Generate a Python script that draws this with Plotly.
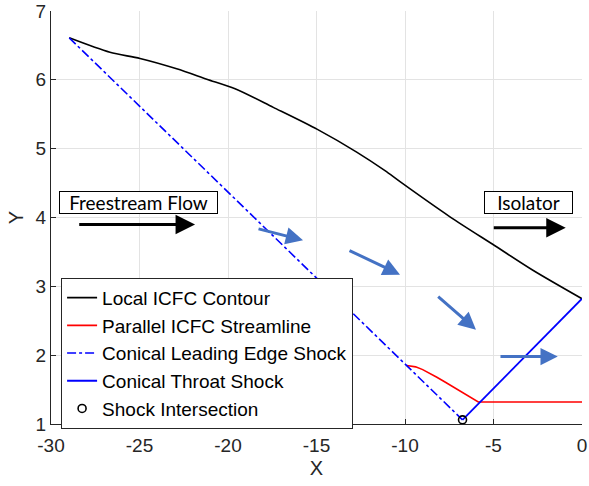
import plotly.graph_objects as go

# Local ICFC contour (wall profile)
contour_x = [-28.97, -26.67, -24.97, -22.90, -21.20, -19.60, -17.44, -14.95,
             -12.73, -11.13, -10.28, -7.46, -4.92, -2.75, 0.0]
contour_y = [6.61, 6.40, 6.31, 6.16, 6.01, 5.87, 5.60, 5.28,
             4.95, 4.68, 4.52, 4.01, 3.59, 3.23, 2.82]

# Parallel ICFC streamline
stream_x = [-9.90, -9.40, -9.00, -8.68, -8.20, -7.74, -7.27, -6.80, -6.33, -5.86,
            -3.0, 0.0]
stream_y = [1.85, 1.83, 1.79, 1.75, 1.68, 1.61, 1.535, 1.46, 1.39, 1.32,
            1.32, 1.32]

# Conical shocks
lead_x = [-28.97, -6.75]
lead_y = [6.61, 1.06]
throat_x = [-6.75, 0.0]
throat_y = [1.06, 2.82]

# Shock intersection point
inter_x = [-6.75]
inter_y = [1.06]

# Axis ticks
x_ticks = [-30, -25, -20, -15, -10, -5, 0]
y_ticks = [1, 2, 3, 4, 5, 6, 7]

# Flow direction arrows: (tail_x, tail_y, head_x, head_y)
flow_arrows = [
    (-18.36, 3.84, -15.76, 3.67),
    (-13.22, 3.53, -10.28, 3.17),
    (-8.21, 2.87, -5.99, 2.37),
    (-4.69, 1.98, -1.37, 1.98),
]
label_arrows = [
    (-28.49, 3.90, -21.86, 3.90),
    (-5.07, 3.85, -0.92, 3.85),
]
# Text boxes: (x, y, text, width)
labels = [
    (-25.05, 4.22, "Freestream Flow", 157),
    (-3.01, 4.22, "Isolator", 87),
]

fig = go.Figure()
fig.add_trace(go.Scatter(x=contour_x, y=contour_y, mode="lines",
                         line=dict(color="black", width=1.6, shape="spline",
                                   smoothing=0.8),
                         name="Local ICFC Contour"))
fig.add_trace(go.Scatter(x=stream_x, y=stream_y, mode="lines",
                         line=dict(color="#ff0000", width=1.6),
                         name="Parallel ICFC Streamline"))
fig.add_trace(go.Scatter(x=lead_x, y=lead_y, mode="lines",
                         line=dict(color="#0000ff", width=1.6, dash="dashdot"),
                         name="Conical Leading Edge Shock"))
fig.add_trace(go.Scatter(x=throat_x, y=throat_y, mode="lines",
                         line=dict(color="#0000ff", width=1.8),
                         name="Conical Throat Shock"))
fig.add_trace(go.Scatter(x=inter_x, y=inter_y, mode="markers",
                         marker=dict(symbol="circle-open", color="black", size=8,
                                     line=dict(width=1.6)),
                         name="Shock Intersection", cliponaxis=False))

annotations = []
for tx, ty, hx, hy in flow_arrows:
    annotations.append(dict(x=hx, y=hy, ax=tx, ay=ty, xref="x", yref="y",
                            axref="x", ayref="y", text="", showarrow=True,
                            arrowhead=2, arrowsize=1.15, arrowwidth=3,
                            arrowcolor="#4472c4"))
for tx, ty, hx, hy in label_arrows:
    annotations.append(dict(x=hx, y=hy, ax=tx, ay=ty, xref="x", yref="y",
                            axref="x", ayref="y", text="", showarrow=True,
                            arrowhead=2, arrowsize=1.3, arrowwidth=3,
                            arrowcolor="black"))
for x, y, t, w in labels:
    annotations.append(dict(x=x, y=y, xref="x", yref="y", text=t,
                            showarrow=False, width=w, height=21,
                            bgcolor="white", bordercolor="black", borderwidth=1,
                            borderpad=0,
                            font=dict(family="Lato", size=19, color="black")))

axis_common = dict(showline=True, linecolor="#262626", linewidth=1,
                   ticks="inside", ticklen=5, tickcolor="#262626",
                   showgrid=True, gridcolor="#e3e3e3", gridwidth=1,
                   zeroline=False, mirror=False, automargin=False,
                   tickfont=dict(family="Liberation Sans", size=19, color="#262626"))

fig.update_layout(
    width=589, height=486,
    margin=dict(l=51, r=7, t=11, b=62),
    paper_bgcolor="white", plot_bgcolor="white",
    xaxis=dict(range=[-30, 0], tickmode="array", tickvals=x_ticks,
               ticktext=[str(v) for v in x_ticks], ticklabelstandoff=4,
               title=dict(text="X", standoff=6,
                          font=dict(family="Liberation Sans", size=20, color="#262626")),
               **axis_common),
    yaxis=dict(range=[1, 7], tickmode="array", tickvals=y_ticks,
               ticktext=[str(v) for v in y_ticks],
               title=dict(text="Y", standoff=6,
                          font=dict(family="Liberation Sans", size=20, color="#262626")),
               **axis_common),
    legend=dict(x=0.019, y=0.354, xanchor="left", yanchor="top",
                bgcolor="white", bordercolor="#262626", borderwidth=1,
                font=dict(family="Liberation Sans", size=19, color="black"),
                itemwidth=30),
    annotations=annotations,
    showlegend=True,
)

fig.write_html("out.html")
